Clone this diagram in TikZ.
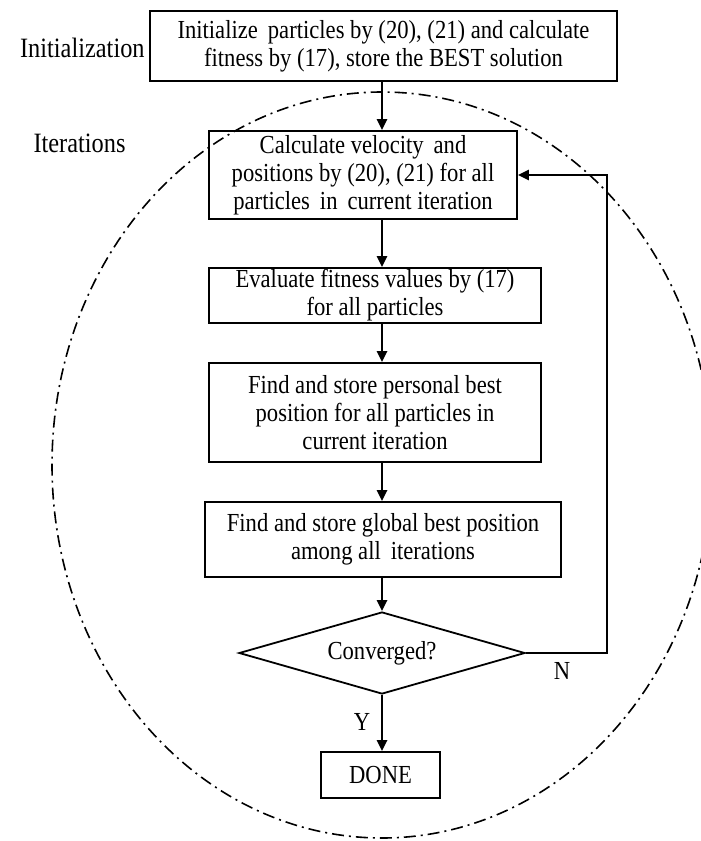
\documentclass[tikz,border=0pt]{standalone}
\usepackage{fontspec}
\setmainfont{Liberation Serif}[FakeStretch=0.87]
\usepackage{tikz}
\usetikzlibrary{positioning,arrows.meta,shapes.geometric,calc}
\tikzset{
  blk/.style={rectangle,draw=black,line width=0.9pt,align=center,inner sep=0pt,
    font=\fontsize{13}{14}\selectfont},
  dec/.style={diamond,draw=black,line width=0.9pt,aspect=3.5,inner sep=0pt,
    minimum width=143pt,minimum height=41pt,font=\fontsize{13}{14}\selectfont},
  ar/.style={-{Triangle[length=5.5pt,width=5pt]},line width=1.4pt,draw=black},
  lbl/.style={font=\fontsize{13}{14}\selectfont,inner sep=0pt},
  phase/.style={font=\fontsize{14}{16}\selectfont,inner sep=0pt},
  ring/.style={line width=0.8pt,dash pattern=on 6pt off 2.5pt on 1pt off 2.5pt},
}
\begin{document}
\begin{tikzpicture}[x=0.5pt,y=-0.5pt]
  \useasboundingbox (0,0) rectangle (701,841);
  % boxes of the loop
  \node[blk,minimum width=233.5pt,minimum height=35pt] (init) at (383.5,46)
    {Initialize\, particles by (20), (21) and calculate\\fitness by (17), store the BEST solution};
  \node[blk,minimum width=154pt,minimum height=44pt] (vel) at (363,175)
    {Calculate velocity\, and\\positions by (20), (21) for all\\particles\, in\, current iteration};
  \node[blk,minimum width=166pt,minimum height=27.5pt] (fit) at (375,295.5)
    {Evaluate fitness values by (17)\\for all particles};
  \node[blk,minimum width=166pt,minimum height=49.5pt] (pbest) at (375,412.5)
    {Find and store personal best\\position for all particles in\\current iteration};
  \node[blk,minimum width=178pt,minimum height=37.5pt] (gbest) at (383,539.5)
    {Find and store global best position\\among all\, iterations};
  \node[dec] (conv) at (382,653) {Converged?};
  \node[blk,minimum width=59.5pt,minimum height=23pt] (done) at (380.5,775) {DONE};
  % phase labels
  \node[phase,anchor=east] (lblinit) at (145,48) {Initialization};
  \node[phase] (lbliter) at (79.5,143) {Iterations};
  \node[lbl] (lblN) at (562,671) {N};
  \node[lbl] (lblY) at (362,722) {Y};
  % straight flow
  \draw[ar] (init.south -| conv.north) -- (vel.north -| conv.north);
  \draw[ar] (vel.south -| conv.north) -- (fit.north -| conv.north);
  \draw[ar] (fit.south -| conv.north) -- (pbest.north -| conv.north);
  \draw[ar] (pbest.south -| conv.north) -- (gbest.north -| conv.north);
  \draw[ar] (gbest.south -| conv.north) -- (conv.north);
  \draw[ar] (conv.south) -- (done.north -| conv.south);
  % back to velocity update
  \coordinate (back) at (607,653);
  \draw[ar] (conv.east) -- (back) |- (vel.east);
  % iteration region
  \draw[ring] (382,465) ellipse [x radius=165pt,y radius=186.5pt];
\end{tikzpicture}
\end{document}
